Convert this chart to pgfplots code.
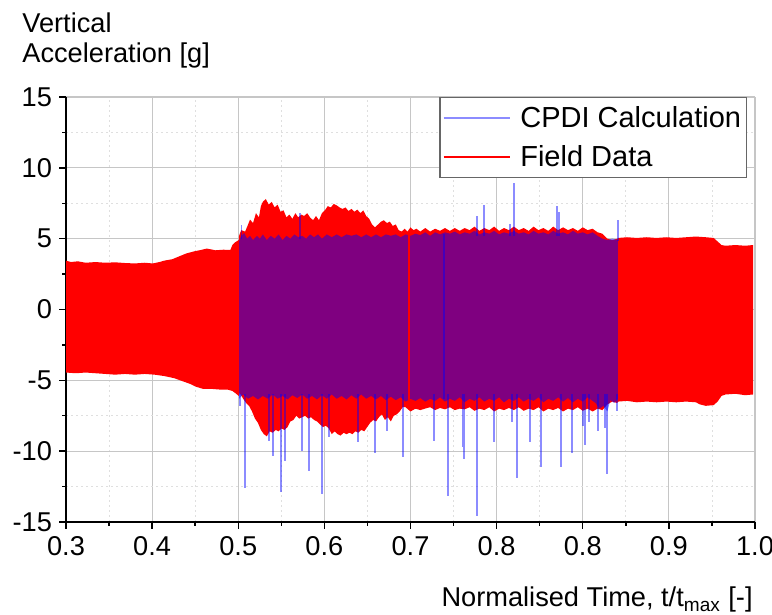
\documentclass[border=0pt]{standalone}
\usepackage{pgfplots}
\pgfplotsset{compat=1.18}
\usepackage{fontspec}
\setmainfont{Liberation Sans}
\begin{document}
\begin{tikzpicture}
\useasboundingbox (-33pt,-46.5pt) rectangle (353pt,261pt);
\begin{axis}[
 at={(0,0)}, anchor=south west,
 scale only axis, width=344.5pt, height=212.5pt,
 xmin=0.3, xmax=1.0, ymin=-15, ymax=15,
 axis x line*=bottom, axis y line*=left,
 xtick={0.3,0.3875,0.475,0.5625,0.65,0.7375,0.825,0.9125,1.0},
 xticklabels={0.3,0.4,0.5,0.6,0.7,0.8,0.8,0.9,1.0},
 ytick={-15,-10,-5,0,5,10,15},
 minor x tick num=1, minor y tick num=1,
 grid=both,
 major grid style={gray!45, line width=0.6pt},
 minor grid style={gray!25, dash pattern=on 1pt off 1.5pt, line width=0.4pt},
 tick align=outside, major tick length=3.5pt, minor tick length=2pt,
 tick style={black, line width=0.7pt},
 axis line style={black, line width=0.8pt},
 ticklabel style={font=\fontsize{13.6}{16}\selectfont},
 /pgf/number format/assume math mode=true,
 unbounded coords=jump,
 legend style={at={(0.988,1)}, anchor=north east, draw=black!60, line width=0.6pt,
   font=\fontsize{14.5}{17}\selectfont, inner xsep=1.5pt, inner ysep=2pt, row sep=3pt,
   column sep=4pt,
   nodes={inner sep=1pt, text height=12pt, text depth=2.5pt}},
 legend cell align=left,
 legend image code/.code={\draw[#1] (0pt,0pt) -- (33pt,0pt);},
]
\addlegendimage{blue!45, line width=0.7pt}
\addlegendentry{CPDI Calculation}
\addlegendimage{red, line width=0.7pt}
\addlegendentry{Field Data}

% Field data envelope
\addplot[forget plot, draw=none, fill=red] coordinates {
(0.300,3.45) (0.305,3.35) (0.312,3.40) (0.320,3.30) (0.330,3.35) (0.340,3.30) (0.350,3.33)
(0.360,3.28) (0.370,3.25) (0.380,3.30) (0.388,3.25) (0.395,3.35) (0.400,3.45) (0.408,3.55)
(0.415,3.75) (0.422,3.95) (0.430,4.10) (0.437,4.20) (0.443,4.30) (0.452,4.18) (0.460,4.22)
(0.467,4.20) (0.469,4.55) (0.472,4.75) (0.4755,4.90)
(0.4758,5.2) (0.478,5.6) (0.482,5.5) (0.485,6.0) (0.487,6.35) (0.490,6.1) (0.493,6.8)
(0.496,6.5) (0.498,7.3) (0.500,7.6) (0.503,7.8) (0.506,7.4) (0.509,7.6) (0.512,7.2)
(0.515,7.4) (0.518,6.9) (0.521,7.0) (0.524,6.5) (0.527,6.7) (0.530,6.4) (0.533,6.8)
(0.536,6.5) (0.539,6.7) (0.542,6.6) (0.545,6.8) (0.548,6.5) (0.551,6.3) (0.554,6.6)
(0.557,6.3) (0.560,6.8) (0.563,7.0) (0.566,7.3) (0.569,7.2) (0.572,7.45) (0.575,7.35)
(0.578,7.2) (0.581,7.1) (0.584,7.2) (0.587,6.95) (0.590,7.1) (0.593,6.9) (0.596,7.05)
(0.599,6.8) (0.602,7.0) (0.605,6.6) (0.608,6.4) (0.611,6.0) (0.614,5.8) (0.617,6.0)
(0.620,6.2) (0.623,6.3) (0.626,6.1) (0.629,6.2) (0.632,5.9) (0.635,6.0) (0.638,5.6)
(0.641,5.5) (0.644,5.7) (0.647,5.5) (0.650,5.8) (0.653,5.6) (0.656,5.7) (0.660,5.5)
(0.665,5.75) (0.670,5.5) (0.675,5.7) (0.680,5.55) (0.685,5.75) (0.690,5.55) (0.695,5.75)
(0.700,5.55) (0.705,5.75) (0.710,5.6) (0.715,5.85) (0.720,5.55) (0.725,5.75) (0.730,5.6)
(0.735,5.85) (0.740,5.55) (0.745,5.75) (0.750,5.6) (0.755,5.85) (0.760,5.6) (0.765,5.75)
(0.770,5.55) (0.775,5.85) (0.780,5.6) (0.785,5.75) (0.790,5.55) (0.795,5.85) (0.800,5.6)
(0.805,5.8) (0.810,5.6) (0.815,5.75) (0.820,5.55) (0.825,5.8) (0.830,5.6) (0.835,5.7)
(0.840,5.45) (0.845,5.35) (0.850,5.0) (0.855,4.9) (0.8605,5.0)
(0.861,5.05) (0.870,5.10) (0.880,5.05) (0.890,5.10) (0.900,5.05) (0.910,5.10) (0.920,5.05)
(0.930,5.10) (0.940,5.15) (0.950,5.10) (0.958,5.05) (0.962,4.80) (0.966,4.55) (0.970,4.50)
(0.980,4.55) (0.990,4.50) (0.998,4.55)
(0.998,-6.0) (0.990,-6.05) (0.980,-5.95) (0.970,-6.0) (0.966,-6.1) (0.962,-6.5) (0.958,-6.75)
(0.950,-6.8) (0.944,-6.7) (0.940,-6.55) (0.930,-6.5) (0.920,-6.55) (0.910,-6.5) (0.900,-6.55)
(0.890,-6.5) (0.880,-6.55) (0.870,-6.45) (0.861,-6.5)
(0.860,-6.6) (0.855,-6.5) (0.850,-6.7) (0.845,-7.1) (0.840,-7.0) (0.835,-7.2) (0.830,-7.0)
(0.825,-7.15) (0.820,-6.9) (0.815,-7.1) (0.810,-7.0) (0.805,-7.2) (0.800,-6.95) (0.795,-7.1)
(0.790,-7.0) (0.785,-7.2) (0.780,-6.9) (0.775,-7.1) (0.770,-7.0) (0.765,-7.15) (0.760,-6.9)
(0.755,-7.1) (0.750,-6.95) (0.745,-7.1) (0.740,-7.0) (0.735,-7.2) (0.730,-6.9) (0.725,-7.1)
(0.720,-7.0) (0.715,-7.15) (0.710,-6.9) (0.705,-7.05) (0.700,-7.0) (0.695,-7.1) (0.690,-6.9)
(0.685,-7.05) (0.680,-6.95) (0.675,-7.1) (0.670,-6.9) (0.667,-6.95) (0.660,-7.1) (0.655,-7.0)
(0.650,-7.2) (0.645,-6.9) (0.642,-6.9) (0.639,-7.2) (0.636,-7.4) (0.633,-7.5) (0.630,-7.9)
(0.627,-7.6) (0.624,-7.8) (0.621,-7.4) (0.618,-7.6) (0.615,-7.9) (0.612,-7.8) (0.609,-8.0)
(0.606,-8.3) (0.603,-8.6) (0.600,-8.5) (0.597,-8.7) (0.594,-8.6) (0.591,-8.8) (0.588,-8.7)
(0.585,-8.8) (0.582,-8.7) (0.579,-8.9) (0.576,-8.8) (0.573,-8.6) (0.570,-8.8) (0.567,-8.4)
(0.564,-8.2) (0.561,-8.3) (0.558,-8.1) (0.555,-7.9) (0.552,-7.8) (0.549,-7.6) (0.546,-7.7)
(0.543,-7.5) (0.540,-7.6) (0.537,-7.7) (0.534,-7.5) (0.531,-7.8) (0.528,-7.9) (0.525,-8.3)
(0.522,-8.5) (0.519,-8.4) (0.516,-8.6) (0.513,-8.5) (0.510,-8.7) (0.507,-8.6) (0.504,-8.95)
(0.501,-8.8) (0.498,-8.5) (0.495,-8.0) (0.492,-7.7) (0.489,-7.2) (0.486,-6.8) (0.483,-6.6)
(0.480,-6.3) (0.4765,-5.9)
(0.4755,-6.1) (0.472,-5.9) (0.469,-5.75) (0.464,-5.65) (0.456,-5.65) (0.447,-5.6) (0.439,-5.6)
(0.432,-5.45) (0.426,-5.25) (0.418,-5.05) (0.410,-4.85) (0.400,-4.7) (0.390,-4.6) (0.380,-4.55)
(0.370,-4.6) (0.360,-4.55) (0.350,-4.6) (0.340,-4.55) (0.330,-4.5) (0.320,-4.45) (0.310,-4.5)
(0.300,-4.45)
} -- cycle;

% CPDI calculation envelope
\addplot[forget plot, draw=none, fill=blue, fill opacity=0.5] coordinates {
(0.4758,4.8) (0.478,5.2) (0.481,5.4) (0.484,5.0) (0.487,5.2) (0.490,4.9) (0.494,5.2)
(0.497,5.0) (0.500,5.3) (0.504,4.9) (0.508,5.2) (0.512,5.0) (0.516,5.3) (0.520,4.9)
(0.524,5.2) (0.528,5.0) (0.532,5.3) (0.536,5.1) (0.540,5.2) (0.544,5.0) (0.548,5.3)
(0.552,5.1) (0.556,5.3) (0.560,5.0) (0.565,5.3) (0.570,5.1) (0.575,5.3) (0.580,5.1)
(0.585,5.3) (0.590,5.2) (0.595,5.3) (0.600,5.1) (0.605,5.3) (0.610,5.1) (0.615,5.3)
(0.620,5.1) (0.625,5.3) (0.630,5.2) (0.635,5.3) (0.640,5.1) (0.645,5.3) (0.650,5.2)
(0.655,5.35) (0.660,5.25) (0.665,5.45) (0.670,5.2) (0.675,5.45) (0.680,5.3) (0.685,5.45)
(0.690,5.35) (0.695,5.5) (0.700,5.3) (0.705,5.45) (0.710,5.35) (0.715,5.55) (0.720,5.3)
(0.725,5.45) (0.730,5.35) (0.735,5.55) (0.740,5.3) (0.745,5.45) (0.750,5.35) (0.755,5.55)
(0.760,5.35) (0.765,5.45) (0.770,5.3) (0.775,5.55) (0.780,5.35) (0.785,5.45) (0.790,5.3)
(0.795,5.55) (0.800,5.35) (0.805,5.45) (0.810,5.3) (0.815,5.55) (0.820,5.35) (0.825,5.45)
(0.830,5.3) (0.835,5.45) (0.840,5.2) (0.845,5.0) (0.850,4.9) (0.855,5.0) (0.8608,4.9)
(0.8608,-6.3) (0.857,-6.6) (0.853,-6.4) (0.850,-7.2) (0.846,-6.8) (0.842,-7.0) (0.838,-6.6)
(0.834,-6.4) (0.830,-6.2) (0.825,-6.5) (0.820,-6.3) (0.815,-6.55) (0.810,-6.25) (0.805,-6.5)
(0.800,-6.2) (0.795,-6.45) (0.790,-6.3) (0.785,-6.55) (0.780,-6.2) (0.775,-6.45) (0.770,-6.3)
(0.765,-6.5) (0.760,-6.2) (0.755,-6.45) (0.750,-6.3) (0.745,-6.55) (0.740,-6.2) (0.735,-6.45)
(0.730,-6.3) (0.725,-6.5) (0.720,-6.2) (0.715,-6.45) (0.710,-6.3) (0.705,-6.55) (0.700,-6.2)
(0.695,-6.45) (0.690,-6.3) (0.685,-6.5) (0.680,-6.2) (0.675,-6.45) (0.670,-6.3) (0.665,-6.5)
(0.660,-6.25) (0.655,-6.45) (0.650,-6.3) (0.645,-6.5) (0.640,-6.2) (0.635,-6.4) (0.630,-6.15)
(0.625,-6.4) (0.620,-6.1) (0.615,-6.35) (0.610,-6.1) (0.605,-6.3) (0.600,-6.0) (0.595,-6.3)
(0.590,-6.05) (0.585,-6.35) (0.580,-6.1) (0.575,-6.3) (0.570,-6.0) (0.565,-6.3) (0.560,-6.05)
(0.555,-6.35) (0.550,-6.1) (0.545,-6.3) (0.540,-6.0) (0.535,-6.25) (0.530,-6.05) (0.525,-6.35)
(0.520,-6.1) (0.515,-6.3) (0.510,-6.0) (0.505,-6.3) (0.500,-6.1) (0.495,-6.35) (0.490,-6.1)
(0.485,-6.3) (0.480,-6.0) (0.4758,-6.3)
} -- cycle;

% CPDI spikes
\addplot[forget plot, blue, draw opacity=0.45, line width=0.6pt] coordinates {
(0.4768,-6.0) (0.4768,-6.8) (0.4768,nan)
(0.4819,-6.0) (0.4819,-12.6) (0.4819,nan)
(0.5062,-6.0) (0.5062,-9.3) (0.5062,nan)
(0.5103,-6.0) (0.5103,-10.35) (0.5103,nan)
(0.5184,-6.0) (0.5184,-12.9) (0.5184,nan)
(0.5225,-6.0) (0.5225,-10.7) (0.5225,nan)
(0.5398,-6.0) (0.5398,-10.0) (0.5398,nan)
(0.5469,-6.0) (0.5469,-11.4) (0.5469,nan)
(0.5601,-6.0) (0.5601,-13.05) (0.5601,nan)
(0.5672,-6.0) (0.5672,-9.0) (0.5672,nan)
(0.5967,-6.0) (0.5967,-9.35) (0.5967,nan)
(0.6139,-6.0) (0.6139,-10.1) (0.6139,nan)
(0.6261,-6.0) (0.6261,-8.6) (0.6261,nan)
(0.6424,-6.0) (0.6424,-10.4) (0.6424,nan)
(0.6739,-6.0) (0.6739,-9.3) (0.6739,nan)
(0.6881,-6.0) (0.6881,-13.2) (0.6881,nan)
(0.7033,-6.0) (0.7033,-9.7) (0.7033,nan)
(0.7044,-6.0) (0.7044,-10.55) (0.7044,nan)
(0.7176,-6.0) (0.7176,-14.6) (0.7176,nan)
(0.7348,-6.0) (0.7348,-9.35) (0.7348,nan)
(0.7531,-6.0) (0.7531,-7.95) (0.7531,nan)
(0.7582,-6.0) (0.7582,-11.9) (0.7582,nan)
(0.7714,-6.0) (0.7714,-9.35) (0.7714,nan)
(0.7826,-6.0) (0.7826,-11.1) (0.7826,nan)
(0.8029,-6.0) (0.8029,-11.1) (0.8029,nan)
(0.8141,-6.0) (0.8141,-10.1) (0.8141,nan)
(0.8252,-6.0) (0.8252,-8.2) (0.8252,nan)
(0.8272,-6.0) (0.8272,-9.6) (0.8272,nan)
(0.8313,-6.0) (0.8313,-7.95) (0.8313,nan)
(0.8405,-6.0) (0.8405,-8.6) (0.8405,nan)
(0.8476,-6.0) (0.8476,-8.35) (0.8476,nan)
(0.8496,-6.0) (0.8496,-11.6) (0.8496,nan)
(0.8598,-6.0) (0.8598,-7.2) (0.8598,nan)
(0.4780,5.0) (0.4780,5.95) (0.4780,nan)
(0.5377,5.0) (0.5377,6.8) (0.5377,nan)
(0.7176,5.2) (0.7176,6.6) (0.7176,nan)
(0.7247,5.2) (0.7247,7.4) (0.7247,nan)
(0.7511,5.2) (0.7511,6.0) (0.7511,nan)
(0.7551,5.2) (0.7551,8.9) (0.7551,nan)
(0.7988,5.2) (0.7988,7.3) (0.7988,nan)
(0.8008,5.2) (0.8008,6.9) (0.8008,nan)
(0.8608,4.8) (0.8608,6.3) (0.8608,nan)
(0.6840,5.3) (0.6840,-6.3)
};
% Field data line visible through CPDI band
\addplot[forget plot, red, line width=0.6pt] coordinates {(0.6485,5.5) (0.6485,-6.4)};
\end{axis}
\node[anchor=base west, font=\fontsize{13.6}{16}\selectfont, inner sep=0pt] at (-22pt,244.5pt) {Vertical};
\node[anchor=base west, font=\fontsize{13.6}{16}\selectfont, inner sep=0pt] at (-22pt,229.5pt) {Acceleration [g]};
\node[anchor=base east, font=\fontsize{13.6}{16}\selectfont, inner sep=0pt] at (343.5pt,-42.5pt) {Normalised Time, t/t\textsubscript{max} [-]};
\end{tikzpicture}
\end{document}
